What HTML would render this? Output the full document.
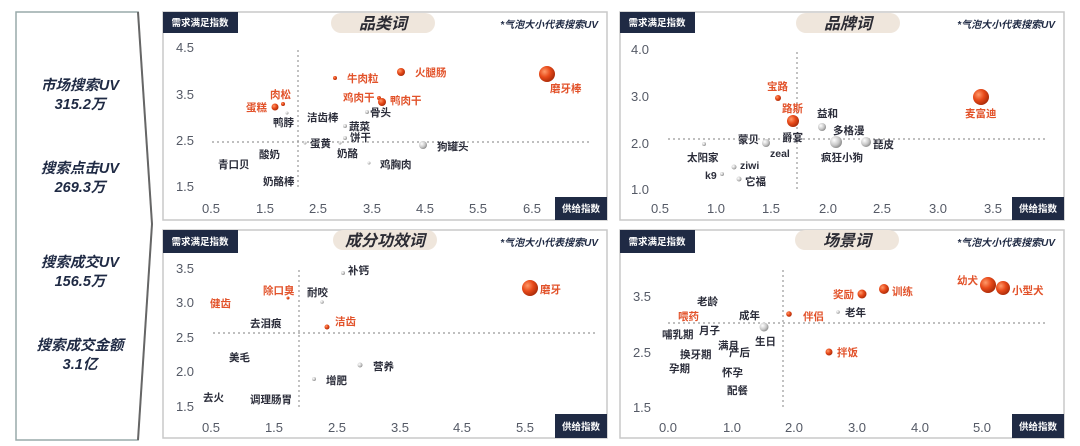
<!DOCTYPE html>
<html><head><meta charset="utf-8"><style>
html,body{margin:0;padding:0;background:#fff;}
svg{display:block;}
text{font-family:"Liberation Sans","Noto Sans CJK SC",sans-serif;}
.t{font-size:10.5px;font-weight:bold;fill:#2b2d3a;}
.r{font-size:10.5px;font-weight:bold;fill:#e2522a;}
.ax{font-size:13px;fill:#555a66;}
.lb{font-size:9.5px;font-weight:bold;fill:#fff;}
.ti{font-size:16px;font-weight:bold;font-style:italic;fill:#2b2b33;}
.nt{font-size:10px;font-weight:bold;font-style:italic;fill:#1f2a44;}
.side{font-size:14.5px;font-weight:bold;font-style:italic;fill:#1f2a44;}
.dl{stroke:#999;stroke-width:1.2;stroke-dasharray:2,3;fill:none;}
.box{fill:#fff;stroke:#c8c8c8;stroke-width:1.5;}
</style></head><body>
<svg width="1080" height="446" viewBox="0 0 1080 446" xmlns="http://www.w3.org/2000/svg">
<defs>
<radialGradient id="rg" cx="35%" cy="35%" r="70%"><stop offset="0" stop-color="#ff9a6a"/><stop offset="0.5" stop-color="#e84a1a"/><stop offset="1" stop-color="#a82a08"/></radialGradient>
<radialGradient id="gg" cx="35%" cy="35%" r="70%"><stop offset="0" stop-color="#ffffff"/><stop offset="0.6" stop-color="#c8c8c8"/><stop offset="1" stop-color="#888"/></radialGradient>
</defs>
<!-- side chevron -->
<path d="M16 12 L138 12 L152 224 L138 440 L16 440 Z" fill="#fff" stroke="#9aa" stroke-width="1.5"/>
<path d="M138 12 L152 224 L138 440" fill="none" stroke="#666" stroke-width="2"/>
<g class="side" text-anchor="middle">
<text x="80" y="90">市场搜索UV</text><text x="80" y="109">315.2万</text>
<text x="80" y="173">搜索点击UV</text><text x="80" y="192">269.3万</text>
<text x="80" y="267">搜索成交UV</text><text x="80" y="286">156.5万</text>
<text x="80" y="350">搜索成交金额</text><text x="80" y="369">3.1亿</text>
</g>

<!-- Panel 1 -->
<rect class="box" x="163" y="12" width="444" height="208"/>
<rect x="163" y="12" width="75" height="21" fill="#1f2a44"/><text class="lb" x="200" y="26" text-anchor="middle">需求满足指数</text>
<rect x="331" y="13" width="104" height="20" rx="10" fill="#efe6dc"/><text class="ti" x="383" y="29" text-anchor="middle">品类词</text>
<text class="nt" x="598" y="28" text-anchor="end">*气泡大小代表搜索UV</text>
<rect x="555" y="197" width="52" height="23" fill="#1f2a44"/><text class="lb" x="581" y="212" text-anchor="middle">供给指数</text>
<g class="ax" text-anchor="middle"><text x="185" y="52">4.5</text><text x="185" y="99">3.5</text><text x="185" y="145">2.5</text><text x="185" y="191">1.5</text>
<text x="211" y="213">0.5</text><text x="265" y="213">1.5</text><text x="318" y="213">2.5</text><text x="372" y="213">3.5</text><text x="425" y="213">4.5</text><text x="478" y="213">5.5</text><text x="532" y="213">6.5</text></g>
<line class="dl" x1="212" y1="142" x2="590" y2="142"/><line class="dl" x1="298" y1="50" x2="298" y2="187"/>
<circle cx="283" cy="104" r="2" fill="url(#rg)"/><text class="r" x="270" y="98">肉松</text>
<circle cx="275" cy="107" r="3.5" fill="url(#rg)"/><text class="r" x="246" y="111">蛋糕</text>
<circle cx="287" cy="113" r="1.5" fill="url(#gg)"/><text class="t" x="273" y="126">鸭脖</text>
<circle cx="335" cy="78" r="2" fill="url(#rg)"/><text class="r" x="347" y="82">牛肉粒</text>
<circle cx="401" cy="72" r="4" fill="url(#rg)"/><text class="r" x="415" y="76">火腿肠</text>
<circle cx="547" cy="74" r="8" fill="url(#rg)"/><text class="r" x="550" y="92">磨牙棒</text>
<circle cx="379" cy="98" r="2" fill="url(#rg)"/><text class="r" x="343" y="101">鸡肉干</text>
<circle cx="382" cy="102" r="4" fill="url(#rg)"/><text class="r" x="390" y="104">鸭肉干</text>
<circle cx="367" cy="112" r="2" fill="url(#gg)"/><text class="t" x="370" y="116">骨头</text>
<text class="t" x="307" y="121">洁齿棒</text>
<circle cx="345" cy="126" r="2" fill="url(#gg)"/><text class="t" x="349" y="130">蔬菜</text>
<circle cx="345" cy="138" r="2" fill="url(#gg)"/><text class="t" x="350" y="141">饼干</text>
<circle cx="305" cy="143" r="1.5" fill="url(#gg)"/><text class="t" x="310" y="147">蛋黄</text>
<circle cx="340" cy="143" r="1.5" fill="url(#gg)"/><text class="t" x="337" y="157">奶酪</text>
<circle cx="423" cy="145" r="4" fill="url(#gg)"/><text class="t" x="437" y="150">狗罐头</text>
<circle cx="369" cy="163" r="1.5" fill="url(#gg)"/><text class="t" x="380" y="168">鸡胸肉</text>
<text class="t" x="259" y="158">酸奶</text><text class="t" x="218" y="168">青口贝</text><text class="t" x="263" y="185">奶酪棒</text>

<!-- Panel 2 -->
<rect class="box" x="620" y="12" width="444" height="208"/>
<rect x="620" y="12" width="75" height="21" fill="#1f2a44"/><text class="lb" x="657" y="26" text-anchor="middle">需求满足指数</text>
<rect x="796" y="13" width="104" height="20" rx="10" fill="#efe6dc"/><text class="ti" x="848" y="29" text-anchor="middle">品牌词</text>
<text class="nt" x="1055" y="28" text-anchor="end">*气泡大小代表搜索UV</text>
<rect x="1012" y="197" width="52" height="23" fill="#1f2a44"/><text class="lb" x="1038" y="212" text-anchor="middle">供给指数</text>
<g class="ax" text-anchor="middle"><text x="640" y="54">4.0</text><text x="640" y="101">3.0</text><text x="640" y="148">2.0</text><text x="640" y="194">1.0</text>
<text x="660" y="213">0.5</text><text x="716" y="213">1.0</text><text x="771" y="213">1.5</text><text x="828" y="213">2.0</text><text x="882" y="213">2.5</text><text x="938" y="213">3.0</text><text x="993" y="213">3.5</text></g>
<line class="dl" x1="668" y1="139" x2="1045" y2="139"/><line class="dl" x1="797" y1="52" x2="797" y2="190"/>
<circle cx="778" cy="98" r="3" fill="url(#rg)"/><text class="r" x="767" y="90">宝路</text>
<circle cx="795" cy="123" r="3" fill="url(#gg)"/>
<circle cx="793" cy="121" r="6" fill="url(#rg)"/><text class="r" x="782" y="112">路斯</text>
<text class="t" x="782" y="141">爵宴</text><text class="t" x="817" y="117">益和</text>
<circle cx="822" cy="127" r="4" fill="url(#gg)"/><text class="t" x="833" y="134">多格漫</text>
<circle cx="766" cy="143" r="4" fill="url(#gg)"/><text class="t" x="738" y="143">蒙贝</text><text class="t" x="770" y="157">zeal</text>
<circle cx="836" cy="142" r="6" fill="url(#gg)"/><text class="t" x="821" y="161">疯狂小狗</text>
<circle cx="866" cy="142" r="5" fill="url(#gg)"/><text class="t" x="873" y="148">琵皮</text>
<circle cx="704" cy="144" r="2" fill="url(#gg)"/><text class="t" x="687" y="161">太阳家</text>
<circle cx="734" cy="167" r="2.5" fill="url(#gg)"/><text class="t" x="740" y="169">ziwi</text>
<circle cx="722" cy="174" r="2" fill="url(#gg)"/><text class="t" x="705" y="179">k9</text>
<circle cx="739" cy="179" r="2.5" fill="url(#gg)"/><text class="t" x="745" y="185">它福</text>
<circle cx="981" cy="97" r="8" fill="url(#rg)"/><text class="r" x="965" y="117">麦富迪</text>

<!-- Panel 3 -->
<rect class="box" x="163" y="230" width="444" height="208"/>
<rect x="163" y="230" width="75" height="23" fill="#1f2a44"/><text class="lb" x="200" y="245" text-anchor="middle">需求满足指数</text>
<rect x="333" y="230" width="104" height="20" rx="10" fill="#efe6dc"/><text class="ti" x="385" y="246" text-anchor="middle">成分功效词</text>
<text class="nt" x="598" y="246" text-anchor="end">*气泡大小代表搜索UV</text>
<rect x="555" y="414" width="52" height="24" fill="#1f2a44"/><text class="lb" x="581" y="430" text-anchor="middle">供给指数</text>
<g class="ax" text-anchor="middle"><text x="185" y="273">3.5</text><text x="185" y="307">3.0</text><text x="185" y="342">2.5</text><text x="185" y="376">2.0</text><text x="185" y="411">1.5</text>
<text x="211" y="432">0.5</text><text x="274" y="432">1.5</text><text x="337" y="432">2.5</text><text x="400" y="432">3.5</text><text x="462" y="432">4.5</text><text x="525" y="432">5.5</text></g>
<line class="dl" x1="213" y1="333" x2="595" y2="333"/><line class="dl" x1="299" y1="270" x2="299" y2="410"/>
<circle cx="343" cy="273" r="2" fill="url(#gg)"/><text class="t" x="348" y="274">补钙</text>
<circle cx="288" cy="298" r="1.5" fill="url(#rg)"/><text class="r" x="263" y="294">除口臭</text>
<circle cx="322" cy="302" r="1.8" fill="url(#gg)"/><text class="t" x="307" y="296">耐咬</text>
<text class="r" x="210" y="307">健齿</text><text class="t" x="250" y="327">去泪痕</text>
<circle cx="327" cy="327" r="2.5" fill="url(#rg)"/><text class="r" x="335" y="325">洁齿</text>
<circle cx="530" cy="288" r="8" fill="url(#rg)"/><text class="r" x="540" y="293">磨牙</text>
<text class="t" x="229" y="361">美毛</text>
<circle cx="360" cy="365" r="2.5" fill="url(#gg)"/><text class="t" x="373" y="370">营养</text>
<circle cx="314" cy="379" r="2" fill="url(#gg)"/><text class="t" x="326" y="384">增肥</text>
<text class="t" x="203" y="401">去火</text><text class="t" x="250" y="403">调理肠胃</text>

<!-- Panel 4 -->
<rect class="box" x="620" y="230" width="444" height="208"/>
<rect x="620" y="230" width="75" height="23" fill="#1f2a44"/><text class="lb" x="657" y="245" text-anchor="middle">需求满足指数</text>
<rect x="795" y="230" width="104" height="20" rx="10" fill="#efe6dc"/><text class="ti" x="847" y="246" text-anchor="middle">场景词</text>
<text class="nt" x="1055" y="246" text-anchor="end">*气泡大小代表搜索UV</text>
<rect x="1012" y="414" width="52" height="24" fill="#1f2a44"/><text class="lb" x="1038" y="430" text-anchor="middle">供给指数</text>
<g class="ax" text-anchor="middle"><text x="642" y="301">3.5</text><text x="642" y="357">2.5</text><text x="642" y="412">1.5</text>
<text x="668" y="432">0.0</text><text x="732" y="432">1.0</text><text x="794" y="432">2.0</text><text x="857" y="432">3.0</text><text x="920" y="432">4.0</text><text x="982" y="432">5.0</text></g>
<line class="dl" x1="668" y1="323" x2="1048" y2="323"/><line class="dl" x1="783" y1="270" x2="783" y2="410"/>
<circle cx="988" cy="285" r="8" fill="url(#rg)"/><text class="r" x="957" y="284">幼犬</text>
<circle cx="1003" cy="288" r="7" fill="url(#rg)"/><text class="r" x="1012" y="294">小型犬</text>
<circle cx="884" cy="289" r="5" fill="url(#rg)"/><text class="r" x="892" y="295">训练</text>
<circle cx="862" cy="294" r="4.5" fill="url(#rg)"/><text class="r" x="833" y="298">奖励</text>
<text class="t" x="697" y="305">老龄</text>
<circle cx="838" cy="312" r="1.8" fill="url(#gg)"/><text class="t" x="845" y="316">老年</text>
<circle cx="789" cy="314" r="2.8" fill="url(#rg)"/><text class="r" x="803" y="320">伴侣</text>
<text class="r" x="678" y="320">喂药</text><text class="t" x="739" y="319">成年</text>
<circle cx="764" cy="327" r="4.5" fill="url(#gg)"/><text class="t" x="755" y="345">生日</text>
<text class="t" x="662" y="338">哺乳期</text><text class="t" x="699" y="334">月子</text><text class="t" x="718" y="349">满月</text>
<text class="t" x="729" y="356">产后</text><text class="t" x="680" y="358">换牙期</text>
<circle cx="829" cy="352" r="3.5" fill="url(#rg)"/><text class="r" x="837" y="356">拌饭</text>
<text class="t" x="669" y="372">孕期</text><text class="t" x="722" y="376">怀孕</text><text class="t" x="727" y="394">配餐</text>
</svg>
</body></html>
